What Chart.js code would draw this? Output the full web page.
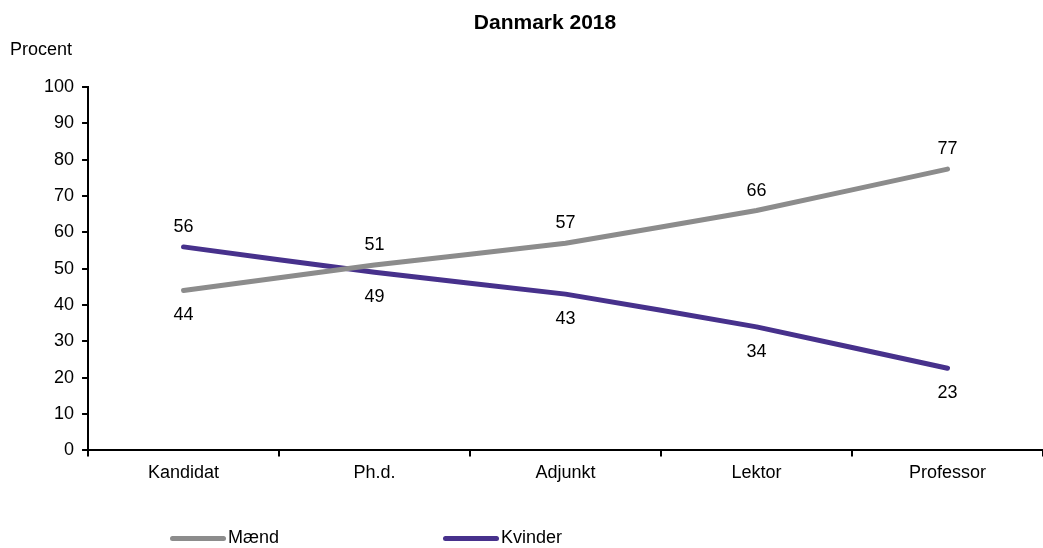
<!DOCTYPE html>
<html>
<head>
<meta charset="utf-8">
<script src="https://cdn.jsdelivr.net/npm/chart.js@4"></script>
<style>
  body { margin: 0; background: #fff; font-family: Arial, "Liberation Sans", sans-serif; }
  #wrap { position: relative; width: 1043px; height: 548px; }
  #title { position: absolute; top: 10px; left: 0; width: 1090px; text-align: center; font-weight: bold; font-size: 21px; }
  #ylabel { position: absolute; top: 39px; left: 10px; font-size: 18px; }
  #legend { position: absolute; top: 527px; left: 170px; font-size: 18px; }
  .item { position: absolute; top: 0; white-space: nowrap; }
  .sw { display: inline-block; width: 56px; height: 5px; border-radius: 3px; vertical-align: middle; margin-right: 2px; }
</style>
</head>
<body>
<div id="wrap">
  <canvas id="chart" width="1043" height="548"></canvas>
  <div id="title">Danmark 2018</div>
  <div id="ylabel">Procent</div>
  <div id="legend"></div>
</div>
<script>
const categories = ["Kandidat", "Ph.d.", "Adjunkt", "Lektor", "Professor"];
const maend = [44, 51, 57, 66, 77.4];
const kvinder = [56, 49, 43, 34, 22.6];
const yTicks = [0, 10, 20, 30, 40, 50, 60, 70, 80, 90, 100];

const grey = "#8c8c8c";
const purple = "#47318c";

// value labels: the higher series gets its label above, the lower one below
const valueLabels = {
  id: 'valueLabels',
  afterDatasetsDraw(chart) {
    const ctx = chart.ctx;
    const sets = chart.data.datasets;
    ctx.save();
    ctx.font = '18px Arial, "Liberation Sans"';
    ctx.fillStyle = '#000';
    ctx.textAlign = 'center';
    ctx.textBaseline = 'middle';
    sets.forEach((ds, i) => {
      const meta = chart.getDatasetMeta(i);
      const other = sets[1 - i].data;
      meta.data.forEach((pt, j) => {
        const above = ds.data[j] >= other[j];
        const y = above ? pt.y - 20 : pt.y + 25;
        ctx.fillText(Math.round(ds.data[j]), pt.x, y);
      });
    });
    ctx.restore();
  }
};

const chart = new Chart(document.getElementById('chart'), {
  type: 'line',
  data: {
    labels: categories,
    datasets: [
      { label: 'Mænd', data: maend, borderColor: grey, backgroundColor: grey },
      { label: 'Kvinder', data: kvinder, borderColor: purple, backgroundColor: purple }
    ]
  },
  options: {
    responsive: false,
    devicePixelRatio: 1,
    animation: false,
    layout: { padding: { top: 87, right: 0, bottom: 58, left: 36 } },
    elements: {
      line: { borderWidth: 5, tension: 0.05, borderCapStyle: 'round', borderJoinStyle: 'round' },
      point: { radius: 0, hoverRadius: 0 }
    },
    plugins: { legend: { display: false }, tooltip: { enabled: false }, title: { display: false } },
    scales: {
      x: {
        offset: true,
        border: { display: true, color: '#000', width: 2 },
        grid: { offset: true, drawOnChartArea: false, drawTicks: true, tickLength: 6, color: '#000', lineWidth: 2 },
        ticks: { color: '#000', font: { size: 18, family: 'Arial, "Liberation Sans"' }, padding: 6, maxRotation: 0 }
      },
      y: {
        min: 0, max: 100,
        afterBuildTicks(axis) { axis.ticks = yTicks.map(v => ({ value: v })); },
        border: { display: true, color: '#000', width: 2 },
        grid: { drawOnChartArea: false, drawTicks: true, tickLength: 6, color: '#000', lineWidth: 2 },
        ticks: { color: '#000', font: { size: 18, family: 'Arial, "Liberation Sans"' }, padding: 8 }
      }
    }
  },
  plugins: [valueLabels]
});

// legend built from the datasets
const legend = document.getElementById('legend');
const offsets = [0, 273];
chart.data.datasets.forEach((ds, i) => {
  const it = document.createElement('div');
  it.className = 'item';
  it.style.left = offsets[i] + 'px';
  it.innerHTML = '<span class="sw" style="background:' + ds.borderColor + '"></span>' + ds.label;
  legend.appendChild(it);
});
</script>
</body>
</html>
